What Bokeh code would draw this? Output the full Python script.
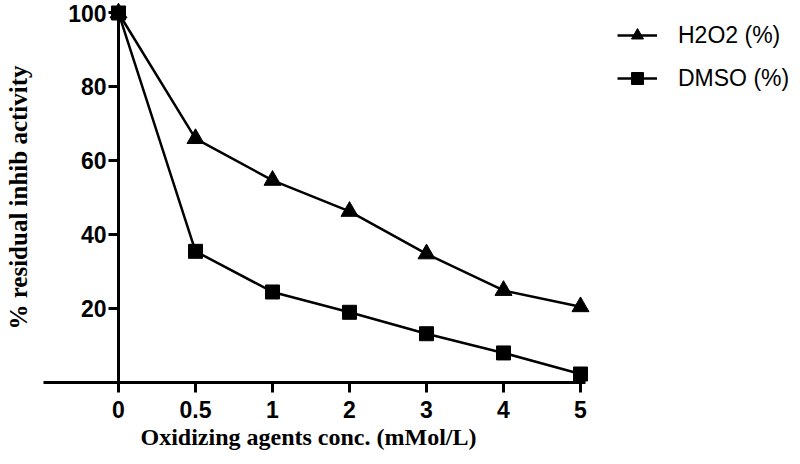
from bokeh.plotting import figure
from bokeh.models import FixedTicker, Legend, LegendItem, Range1d, Title
from bokeh.embed import file_html
from bokeh.resources import INLINE

x_labels = ["0", "0.5", "1", "2", "3", "4", "5"]
h2o2 = [100, 66.0, 54.7, 46.3, 34.8, 24.9, 20.5]
dmso = [100, 35.5, 24.5, 19.0, 13.2, 8.0, 2.3]
y_ticks = [20, 40, 60, 80, 100]
x_title = "Oxidizing agents conc. (mMol/L)"
y_title = "% residual inhib activity"

xi = list(range(len(x_labels)))

p = figure(width=800, height=464, output_backend="svg", toolbar_location=None,
           x_range=Range1d(-1.5325, 8.857), y_range=Range1d(0, 103.38),
           min_border_left=0, min_border_right=0, min_border_top=0, min_border_bottom=82)
p.title.visible = False
p.outline_line_color = None
p.background_fill_color = "white"
p.xgrid.visible = False
p.ygrid.visible = False

l1 = p.line(xi, h2o2, line_color="black", line_width=2.5)
s1 = p.scatter(xi, h2o2, marker="triangle", size=17, fill_color="black", line_color="black")
l2 = p.line(xi, dmso, line_color="black", line_width=2.5)
s2 = p.scatter(xi, dmso, marker="square", size=14, fill_color="black", line_color="black")

# x axis
xa = p.xaxis[0]
xa.bounds = (-0.974, 6.065)
xa.ticker = FixedTicker(ticks=xi)
xa.major_label_overrides = {i: lab for i, lab in zip(xi, x_labels)}
xa.minor_tick_line_color = None
xa.axis_line_width = 3
xa.major_tick_line_width = 3
xa.major_tick_in = 0
xa.major_tick_out = 10
xa.major_label_standoff = 8
xa.major_label_text_font = "Liberation Sans"
xa.major_label_text_font_style = "bold"
xa.major_label_text_font_size = "23px"
xa.major_label_text_color = "black"

xt = Title(text=x_title, align="left", offset=140,
           text_font="Liberation Serif", text_font_style="bold",
           text_font_size="24px", text_color="black", standoff=3)
p.add_layout(xt, "below")

# y axis at x = 0
ya = p.yaxis[0]
ya.fixed_location = 0
ya.bounds = (0, 100)
ya.ticker = FixedTicker(ticks=y_ticks)
ya.minor_tick_line_color = None
ya.axis_line_width = 3
ya.major_tick_line_width = 3
ya.major_tick_in = 0
ya.major_tick_out = 10
ya.major_label_standoff = 2
ya.major_label_text_font = "Liberation Sans"
ya.major_label_text_font_style = "bold"
ya.major_label_text_font_size = "23px"
ya.major_label_text_color = "black"
ya.axis_label = y_title
ya.axis_label_text_font = "Liberation Serif"
ya.axis_label_text_font_style = "bold"
ya.axis_label_text_font_size = "25px"
ya.axis_label_text_color = "black"
ya.axis_label_standoff = 33

legend = Legend(items=[LegendItem(label="H2O2 (%)", renderers=[l1, s1]),
                       LegendItem(label="DMSO (%)", renderers=[l2, s2])],
                location=(617, 289), orientation="vertical",
                border_line_color=None, background_fill_alpha=0,
                padding=0, margin=0, spacing=13,
                glyph_width=40, glyph_height=30, label_height=30, label_standoff=21,
                label_text_font="Liberation Sans", label_text_font_size="23px",
                label_text_color="black")
p.add_layout(legend, "center")

open("out.html", "w").write(file_html(p, INLINE))
